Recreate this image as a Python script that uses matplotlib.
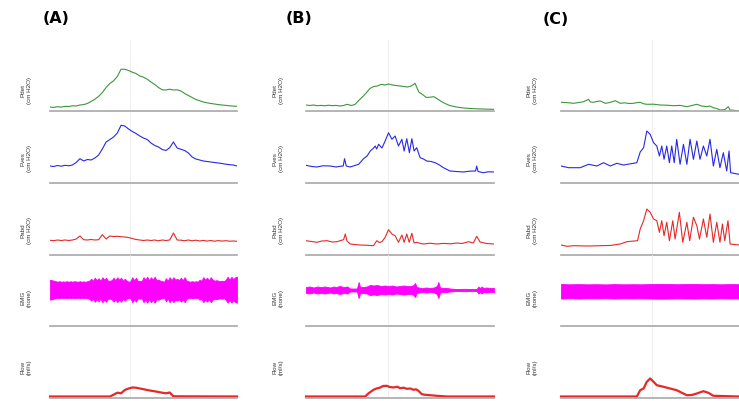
import matplotlib
matplotlib.use("Agg")
from matplotlib import pyplot as plt

# ---- column A ----
pdet_a_t = [0, 2, 4, 6, 8, 10, 12, 14, 16, 18, 20, 22, 24, 26, 28, 30, 32, 34, 36, 38, 40, 42, 44, 46, 48,
            50, 52, 54, 56, 58, 60, 62, 64, 66, 68, 70, 72, 74, 76, 78, 80, 82, 84, 86, 88, 90, 92, 94, 96, 98, 100]
pdet_a_v = [4.0, 3.6, 4.3, 3.9, 4.6, 4.5, 5.2, 5.0, 6.0, 6.4, 7.5, 9.6, 11.8, 14.6, 18.5, 23.5, 27.5, 30.2, 34.5,
            41.8, 41.8, 40.5, 38.8, 37.5, 35.0, 33.8, 31.8, 29.0, 26.5, 23.5, 21.2, 21.0, 21.8, 21.0, 21.2, 20.0,
            17.5, 15.5, 13.5, 11.5, 10.3, 9.0, 8.2, 7.5, 7.0, 6.4, 6.0, 5.6, 5.2, 4.9, 4.7]
pves_a_t = pdet_a_t
pves_a_v = [17, 16.5, 17.5, 16.8, 17.7, 17.2, 18, 20.5, 24.3, 22, 23.5, 23, 25, 28, 34, 41, 43.5, 46, 50, 57.7,
            57, 54, 51.5, 49.5, 47, 45, 43.5, 40, 37.5, 36, 33.5, 32.5, 35.3, 41, 35, 33.7, 32.5, 30, 26, 24, 23,
            22, 21.5, 21, 20.5, 20, 19.5, 18.8, 18.3, 18, 17]
pabd_a_t = pdet_a_t
pabd_a_v = [14.7, 14.3, 15, 14.5, 15, 14.5, 15, 16, 19, 15.3, 15, 15.5, 15, 15.3, 20.3, 16, 19, 18.5, 18.7,
            18.3, 18, 17.5, 16.5, 15.5, 15, 14.5, 15, 14.5, 15, 14.2, 15, 14.5, 15, 22, 15, 14.8, 14.3, 15, 14.2,
            14.8, 14, 14.6, 13.9, 14.5, 13.8, 14.4, 13.9, 14.3, 13.8, 14, 13.7]
emg_a_t = list(range(0, 101))
emg_a_amp = [10, 9.5, 9, 8.5, 8, 8.5, 8, 8.3, 8, 8.5,
             8, 8.4, 8, 8.5, 8.2, 8, 8.5, 8, 8.3, 8,
             8.5, 9, 11, 9, 12, 9.5, 11.5, 9, 12.5, 10,
             12, 9, 9, 9.5, 12, 9.5, 12.5, 10, 12, 9,
             11, 9, 8, 8.5, 12.5, 9.5, 12, 8.5, 9, 8.5,
             12.5, 10, 13, 9.5, 12.5, 10, 13, 9.5, 10, 9,
             8.5, 8, 11.5, 9, 12.5, 9.5, 12.5, 10, 11, 9.5,
             12, 9.5, 12.5, 9, 8.5, 8, 8.5, 8, 8.5, 8,
             10, 9, 12.5, 10, 12, 9.5, 12.5, 10, 9, 9.5,
             9, 8.5, 9, 8.5, 10, 13, 10, 13, 10.5, 12.5,
             13]
flow_a_t = [0, 32, 34, 36, 38, 40, 42, 44, 46, 48, 50, 52, 54, 56, 58, 60, 62, 64, 66, 100]
flow_a_v = [1, 1, 2.8, 4.8, 4.2, 7.5, 9, 10, 9.8, 9, 8.3, 7.5, 6.8, 6.2, 5.5, 4.8, 4.2, 5, 1.2, 1]

# ---- column B ----
pdet_b_t = pdet_a_t
pdet_b_v = [6, 5.5, 6, 5.3, 5.6, 5.2, 5.8, 5.3, 5.6, 5, 5.5, 6.7, 5.5, 6.5, 10.5, 14, 18, 22.5, 24.5, 25,
            26.7, 26, 27, 26, 25.5, 25, 24.5, 24, 25, 27.7, 19, 16.5, 13.5, 13.8, 14.3, 12, 9.5, 7.5, 5.8, 4.8,
            4, 3.4, 3, 2.7, 2.5, 2.3, 2.1, 2, 1.9, 1.8, 1.7]
pves_b_t = [0, 3, 5.8, 9, 12.9, 16, 18.2, 19.8, 20.5, 21.4, 23.5, 26, 28, 30.6, 32.5, 34.2, 36, 36.8, 37.6,
            38.6, 40.4, 42.1, 43.9, 45.7, 47.4, 49.2, 51, 52.2, 53.6, 55, 56.3, 57.5, 58.9, 60.7, 62.5, 64.2,
            66.5, 68.7, 71, 73.1, 76.6, 80, 83.7, 87, 90.2, 90.8, 91.5, 94.3, 97, 100]
pves_b_v = [17.7, 16.5, 16, 17.2, 17, 16, 16.7, 17, 24.3, 17, 16, 17.5, 18.7, 24.3, 27, 32, 35, 37, 34, 38.7,
            35, 42, 50.3, 43.7, 47, 37, 43.7, 32, 44.3, 30.3, 44.3, 32, 35.3, 25.3, 24, 22, 21.5, 20.3, 18,
            15.3, 12, 11.5, 11, 11.8, 12, 17, 11.5, 10.3, 11.2, 11]
pabd_b_t = [0, 3, 5.8, 8.5, 11.2, 14, 16.5, 18.5, 20, 20.9, 21.8, 23.5, 26, 28.8, 32, 35.9, 36.8, 37.7, 39,
            40.4, 42.1, 43.9, 45.7, 47.4, 49.2, 51, 52.2, 53.6, 54.9, 56.3, 57.5, 58.9, 61, 62.5, 66, 69.6,
            73, 77, 80.2, 83, 86.4, 89, 90.8, 92.6, 96, 100]
pabd_b_v = [14.3, 13.5, 12.7, 14, 14.3, 13, 13.3, 14.5, 15.3, 21, 14, 11, 10.5, 10, 9.8, 9.3, 12, 14.3,
            12.5, 13.3, 17.7, 25.3, 21, 19.3, 12.7, 20, 12.7, 21, 12.7, 21.7, 12, 12.7, 11.5, 11, 11.8, 11,
            11.6, 11.2, 12, 11.5, 13.3, 12, 18.7, 13, 11.5, 11]
emg_b_t = [0, 2, 4, 6, 8, 10, 12.9, 14.7, 16, 18, 20, 22, 23.5, 25, 27.1, 28, 28.8, 30, 32.4, 34, 36, 37.7,
           40, 42, 44, 46, 48, 50, 52, 54, 56, 57.2, 58, 58.9, 60, 62, 64, 66, 68, 69.6, 70.4, 71.3, 73, 75,
           76.6, 80, 84, 88, 90.8, 91.7, 92.5, 93.5, 94.3, 96, 98, 100]
emg_b_amp = [3, 3.5, 2.5, 3.5, 3, 3.5, 2.5, 3.5, 3, 4, 3, 3.5, 1.5, 1.5, 1.5, 8, 3, 3, 3.5, 5, 4.5, 5, 4,
             4.5, 4, 4.5, 3.5, 4, 4.5, 4, 4, 5, 7, 3, 2.5, 2, 2.5, 2, 2.5, 4, 8, 2.5, 2, 2, 1.5, 1, 1.2, 1,
             1, 3.5, 2, 3.5, 2, 2.5, 2, 2]
flow_b_t = [0, 31.5, 33.3, 35.9, 37.5, 39.5, 41, 43, 44.5, 46.5, 48.5, 50.1, 52, 53.6, 55.5, 57.2, 58.5,
            59.8, 61.6, 63.4, 69.6, 75, 100]
flow_b_v = [1, 1, 4.3, 7.7, 9, 10, 11.5, 11.7, 10.5, 10, 10.8, 9.3, 9.8, 8.7, 9, 7.7, 8.2, 6.7, 3.3, 2.7,
            1.7, 1, 1]

# ---- column C ----
pdet_c_t = [0, 4, 7.1, 10, 12.7, 15.5, 16.5, 18.3, 20, 22.1, 24.9, 27.5, 30.5, 33.3, 36, 38, 40.7, 42.5,
            44.5, 46.5, 48.2, 52, 55.7, 59.5, 63.2, 67, 70.7, 73.5, 76.3, 79, 81.9, 83.5, 85.6, 87.5, 89.3,
            92, 94, 95, 97.5, 100]
pdet_c_v = [8.7, 8.3, 7.7, 8.5, 9.3, 11.7, 9, 8.7, 9.5, 10, 7.7, 8.5, 10.3, 7.7, 8.2, 7.5, 7.7, 8.3, 8.7,
            7.2, 6.7, 6.8, 6, 5.8, 5.3, 5.6, 4.3, 5.5, 6.7, 5, 4.3, 5, 3.3, 2.5, 1, 1.3, 4.3, 1, 0.6, 0.3]
pves_c_t = [0, 4.3, 10.8, 15.5, 20.2, 23.9, 27.7, 31.4, 35.1, 42.6, 44.5, 46.4, 48.2, 50.1, 52, 53.8, 55.3,
            56.6, 57.9, 59.4, 60.9, 62.2, 63.6, 65, 66.9, 68.8, 70.7, 72.5, 74.4, 76.3, 78.1, 80, 81.9, 83.7,
            85.6, 87.5, 89.3, 91.2, 93.1, 94.4, 95.3, 100]
pves_c_v = [17, 15.3, 15.3, 18.7, 17, 20.3, 17, 19.7, 18, 20.3, 31, 35.3, 52, 48.7, 40.3, 37, 27, 37, 23.7,
            37, 20.3, 37, 20.3, 43.7, 18.7, 38.7, 18.7, 43.7, 23.7, 42, 23.7, 37, 27, 43.7, 17, 33.7, 15.3,
            30.3, 12, 32, 10.3, 8.7]
pabd_c_t = [0, 3.4, 7.1, 15, 22.1, 28, 33.3, 37, 43, 44.5, 46.4, 48.2, 50.1, 52, 53.8, 55.3, 56.6, 57.9,
            59.4, 60.9, 62.8, 64.1, 66.5, 68.4, 70.7, 72.3, 74.4, 76.3, 77.8, 80, 81.9, 83.7, 85.6, 87.5,
            89.3, 90.7, 92, 93.8, 95, 100]
pabd_c_v = [10, 8.7, 9.3, 9, 9.3, 9.6, 11, 13.3, 14.3, 26, 34.3, 46, 42.7, 36, 34.3, 22.7, 34.3, 19.3,
            32.7, 14.3, 34.3, 16, 42.7, 12.7, 32.7, 14.3, 37.7, 29.3, 16, 36, 17.7, 41, 12.7, 32.7, 12.7, 31,
            14.3, 34.3, 11, 10]
emg_c_t = [0, 5, 10, 15, 20, 25, 30, 35, 40, 45, 50, 55, 60, 65, 70, 75, 80, 85, 90, 95, 100]
emg_c_amp = [7.3, 7.0, 7.2, 7.0, 7.1, 6.9, 7.2, 7.0, 7.1, 7.0, 7.2, 7.4, 7.3, 7.1, 7.2, 7.3, 7.1, 7.2, 7.0,
             7.2, 7.1]
flow_c_t = [0, 42.6, 44.5, 46.4, 48.2, 50.1, 52, 53.8, 57.6, 61.3, 65, 67.9, 70.7, 73.5, 76.3, 80, 82.8,
            85.6, 100]
flow_c_v = [1, 1, 7.3, 9, 15.7, 19, 15.7, 12.3, 10.7, 9, 7.3, 4.7, 2.3, 2.5, 4, 6.3, 4.7, 1.7, 1]

panel_titles = ["(A)", "(B)", "(C)"]
row_labels = ["Pdet\n(cm H2O)", "Pves\n(cm H2O)", "Pabd\n(cm H2O)", "EMG\n(none)", "Flow\n(ml/s)"]
emg_center = [36.3, 36, 34.7]
marker_t = [42.7, 43.4, 51.4]

columns = [
    dict(pdet=(pdet_a_t, pdet_a_v), pves=(pves_a_t, pves_a_v), pabd=(pabd_a_t, pabd_a_v),
         emg=(emg_a_t, emg_a_amp), flow=(flow_a_t, flow_a_v)),
    dict(pdet=(pdet_b_t, pdet_b_v), pves=(pves_b_t, pves_b_v), pabd=(pabd_b_t, pabd_b_v),
         emg=(emg_b_t, emg_b_amp), flow=(flow_b_t, flow_b_v)),
    dict(pdet=(pdet_c_t, pdet_c_v), pves=(pves_c_t, pves_c_v), pabd=(pabd_c_t, pabd_c_v),
         emg=(emg_c_t, emg_c_amp), flow=(flow_c_t, flow_c_v)),
]

W, H = 739, 402
col_left = [50, 306, 561]
col_width = [187, 188, 178]
label_x = [26, 278, 532]
title_pos = [(56.5, 18.5), (299, 18.5), (555.5, 20)]
row_base = [112, 184, 256, 327, 398.5]
row_h = 71
label_dy = [21, 25, 25, 29, 31]

GREEN = "#3c963c"
BLUE = "#2828e6"
RED = "#e62828"
MAGENTA = "#ff00ff"

fig = plt.figure(figsize=(W / 100, H / 100), dpi=100)

for c, data in enumerate(columns):
    fig.text(title_pos[c][0] / W, 1 - title_pos[c][1] / H, panel_titles[c],
             ha="center", va="center", fontsize=11.5, fontweight="bold",
             family="DejaVu Sans", color="black")
    for r in range(5):
        ax = fig.add_axes([col_left[c] / W, 1 - row_base[r] / H, col_width[c] / W, row_h / H])
        ax.set_xlim(0, 100)
        ax.set_ylim(0, row_h)
        ax.set_xticks([])
        ax.set_yticks([])
        for side in ("top", "left", "right"):
            ax.spines[side].set_visible(False)
        ax.spines["bottom"].set_color("#a8a8a8")
        ax.spines["bottom"].set_linewidth(1.2)
        ax.patch.set_alpha(0)
        ax.axvline(marker_t[c], color="#ececec", lw=0.6, zorder=0)

        if r == 0:
            ax.plot(*data["pdet"], color=GREEN, lw=0.8)
        elif r == 1:
            ax.plot(*data["pves"], color=BLUE, lw=0.8)
        elif r == 2:
            ax.plot(*data["pabd"], color=RED, lw=0.8)
        elif r == 3:
            t, amp = data["emg"]
            hi = [emg_center[c] + a for a in amp]
            lo = [emg_center[c] - a for a in amp]
            ax.fill_between(t, lo, hi, color=MAGENTA, lw=0.6, edgecolor=MAGENTA)
        else:
            ax.plot(*data["flow"], color=RED, lw=1.6, clip_on=False)

        fig.text(label_x[c] / W, 1 - (row_base[r] - label_dy[r]) / H, row_labels[r],
                 rotation=90, ha="center", va="center", multialignment="center",
                 fontsize=4.5, family="Liberation Sans", color="#333333", linespacing=1.35)

fig.savefig("out.png", dpi=100)
